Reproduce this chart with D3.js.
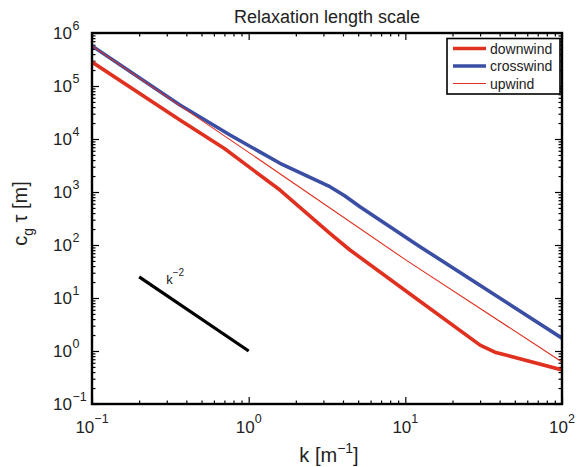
<!DOCTYPE html>
<html><head><meta charset="utf-8">
<script src="https://cdn.jsdelivr.net/npm/d3@7"></script>
<style>
body{margin:0;background:#fff}
text{font-family:"Liberation Sans",Arial,Helvetica,sans-serif;fill:#222}
</style>
</head><body>
<svg id="chart" width="578" height="467"></svg>
<script>
// ---- data ----
const downK   = [0.1, 0.364, 0.7, 1.585, 3.3, 4.43, 12.4, 30, 37.3, 45, 100];
const downVal = [2.84e5, 2.28e4, 6.6e3, 1.09e3, 166, 80.5, 8.7, 1.29, 0.95, 0.82, 0.44];
const crossK   = [0.1, 0.364, 0.76, 1.585, 3.3, 4.1, 5.13, 12.4, 100];
const crossVal = [5.7e5, 4.38e4, 1.19e4, 3.48e3, 1.26e3, 850, 528, 93, 1.74];
const upK   = [0.1, 1, 10, 100];
const upVal = [5.7e5, 5.6e3, 53, 0.62];
const refK   = [0.2, 1];
const refVal = [25, 1];
const seriesNames = ["downwind", "crosswind", "upwind"];
const xTicks = [0.1, 1, 10, 100];
const xTickExp = ["\u22121", "0", "1", "2"];
const yTicks = [1e-1, 1e0, 1e1, 1e2, 1e3, 1e4, 1e5, 1e6];
const yTickExp = ["\u22121", "0", "1", "2", "3", "4", "5", "6"];

// ---- layout ----
const L = 92, R = 562, T = 33, B = 404;
const RED = "#e0301f", BLUE = "#3a4ea4";
const svg = d3.select("#chart");
const x = d3.scaleLog().domain([0.1, 100]).range([L, R]);
const y = d3.scaleLog().domain([0.1, 1e6]).range([B, T]);

const minor = d => { const m = []; d.slice(0, -1).forEach(v => { for (let i = 2; i <= 9; i++) m.push(v * i); }); return m; };
const xMinor = minor(xTicks), yMinor = minor(yTicks);

function addAxis(gen, tr, vals, size) {
  const g = svg.append("g").attr("transform", tr)
    .call(gen.tickValues(vals).tickSize(size).tickFormat(""));
  g.select(".domain").remove();
  g.selectAll("line").attr("stroke", "#000").attr("stroke-width", 1.2);
}
addAxis(d3.axisBottom(x), `translate(0,${B})`, xTicks, -7);
addAxis(d3.axisBottom(x), `translate(0,${B})`, xMinor, -3.5);
addAxis(d3.axisTop(x), `translate(0,${T})`, xTicks, -7);
addAxis(d3.axisTop(x), `translate(0,${T})`, xMinor, -3.5);
addAxis(d3.axisLeft(y), `translate(${L},0)`, yTicks, -7);
addAxis(d3.axisLeft(y), `translate(${L},0)`, yMinor, -3.5);
addAxis(d3.axisRight(y), `translate(${R},0)`, yTicks, -7);
addAxis(d3.axisRight(y), `translate(${R},0)`, yMinor, -3.5);

svg.append("clipPath").attr("id", "clip").append("rect")
  .attr("x", L).attr("y", T).attr("width", R - L).attr("height", B - T);

const line = d3.line().x(d => x(d[0])).y(d => y(d[1]));
const plot = svg.append("g").attr("clip-path", "url(#clip)");
const zip = (a, b) => a.map((v, i) => [v, b[i]]);

plot.append("path").datum(zip(downK, downVal)).attr("d", line)
  .attr("fill", "none").attr("stroke", RED).attr("stroke-width", 3.6).attr("stroke-linejoin", "round");
plot.append("path").datum(zip(crossK, crossVal)).attr("d", line)
  .attr("fill", "none").attr("stroke", BLUE).attr("stroke-width", 3.6).attr("stroke-linejoin", "round");
plot.append("path").datum(zip(upK, upVal)).attr("d", line)
  .attr("fill", "none").attr("stroke", RED).attr("stroke-width", 1.1);
plot.append("path").datum(zip(refK, refVal)).attr("d", line)
  .attr("fill", "none").attr("stroke", "#000").attr("stroke-width", 3.2);

const kl = svg.append("text").attr("x", x(refK[0]) + 27).attr("y", y(refVal[0]) + 7).attr("font-size", 13);
kl.append("tspan").text("k");
kl.append("tspan").attr("dy", -8).attr("font-size", 10).text("\u22122");

svg.append("rect").attr("x", L).attr("y", T).attr("width", R - L).attr("height", B - T)
  .attr("fill", "none").attr("stroke", "#000").attr("stroke-width", 2.4);

xTicks.forEach((v, i) => {
  const t = svg.append("text").attr("x", x(v)).attr("y", B + 29).attr("text-anchor", "middle").attr("font-size", 17);
  t.append("tspan").text("10");
  t.append("tspan").attr("dy", -10).attr("font-size", 12.5).text(xTickExp[i]);
});
yTicks.forEach((v, i) => {
  svg.append("text").attr("x", L - 20).attr("y", y(v) + 6).attr("text-anchor", "end").attr("font-size", 17).text("10");
  svg.append("text").attr("x", L - 19.5).attr("y", y(v) - 3).attr("font-size", 12.5).text(yTickExp[i]);
});

svg.append("text").attr("x", (L + R) / 2).attr("y", 23).attr("text-anchor", "middle")
  .attr("font-size", 18).text("Relaxation length scale");

const xl = svg.append("text").attr("x", (L + R) / 2 + 2).attr("y", 462).attr("text-anchor", "middle").attr("font-size", 20);
xl.append("tspan").text("k [m");
xl.append("tspan").attr("dy", -9).attr("font-size", 14).text("\u22121");
xl.append("tspan").attr("dy", 9).text("]");

const yl = svg.append("text").attr("transform", `translate(27,${(T + B) / 2 - 5}) rotate(-90)`)
  .attr("text-anchor", "middle").attr("font-size", 20);
yl.append("tspan").text("c");
yl.append("tspan").attr("dy", 6).attr("font-size", 14).text("g");
yl.append("tspan").attr("dy", -6).text(" \u03c4 [m]");

const lg = svg.append("g");
lg.append("rect").attr("x", 447).attr("y", 38.5).attr("width", 113).attr("height", 55.5)
  .attr("fill", "#fff").attr("stroke", "#000").attr("stroke-width", 1.6);
const legColors = [RED, BLUE, RED], legW = [3.6, 3.6, 1.1], rowY = [48.5, 66, 83.5];
seriesNames.forEach((n, i) => {
  lg.append("line").attr("x1", 453).attr("x2", 486).attr("y1", rowY[i]).attr("y2", rowY[i])
    .attr("stroke", legColors[i]).attr("stroke-width", legW[i]);
  lg.append("text").attr("x", 490).attr("y", rowY[i] + 5).attr("font-size", 14).text(n);
});
</script>
</body></html>
